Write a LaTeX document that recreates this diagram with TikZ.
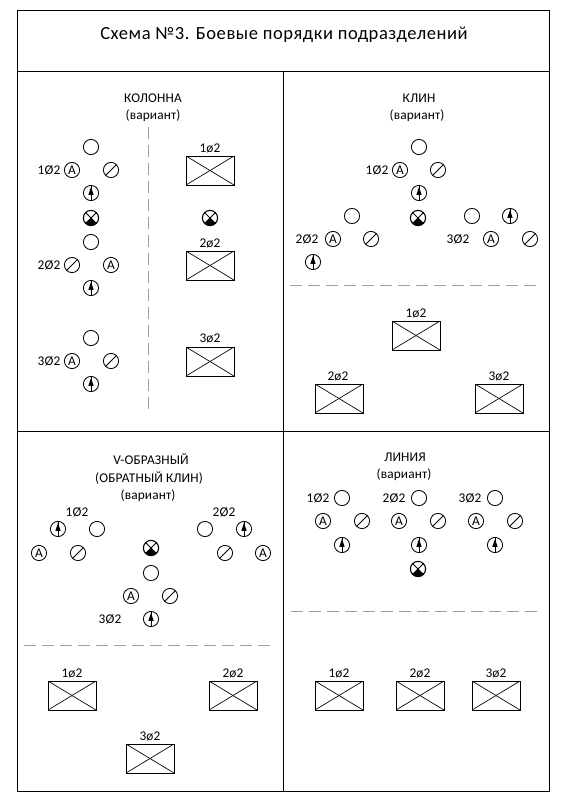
\documentclass[tikz,border=0pt]{standalone}
\usepackage{fontspec}
\setmainfont{Carlito}
\newfontfamily\cadfont[LetterSpace=1]{Carlito}
\newfontfamily\cadwide[LetterSpace=3]{Carlito}
\tikzset{
  x=0.75pt,y=-0.75pt,
  frameline/.style={line width=0.65pt,draw=black},
  dashline/.style={line width=0.7pt,draw=black!38,dash pattern=on 9pt off 4.5pt},
  unitbase/.style={circle,draw=black,line width=0.65pt,minimum size=11.4pt,inner sep=0pt,fill=white},
  plainunit/.style={unitbase},
  autounit/.style={unitbase,font=\cadfont\fontsize{10}{10}\selectfont,text=black},
  slashunit/.style={unitbase,path picture={
    \draw[black,line width=0.65pt] (path picture bounding box.south west) -- (path picture bounding box.north east);}},
  arrowunit/.style={unitbase,path picture={
    \coordinate (pc) at (path picture bounding box.center);
    \draw[black,line width=0.65pt] ([yshift=-6pt]pc) -- ([yshift=6pt]pc);
    \fill[black] ([yshift=4.6pt]pc) -- ([xshift=-2pt,yshift=-1.4pt]pc) -- ([xshift=2pt,yshift=-1.4pt]pc) -- cycle;}},
  cmdunit/.style={unitbase,line width=0.85pt,path picture={
    \coordinate (pc) at (path picture bounding box.center);
    \fill[black] (pc) -- ++(-7pt,-7pt) -- ++(14pt,0pt) -- cycle;
    \fill[black] ([yshift=-2.8pt]pc) ++(-7pt,0pt) rectangle ++(14pt,-6pt);
    \draw[black,line width=0.65pt] ([shift={(-6pt,-6pt)}]pc) -- ([shift={(6pt,6pt)}]pc);
    \draw[black,line width=0.65pt] ([shift={(-6pt,6pt)}]pc) -- ([shift={(6pt,-6pt)}]pc);}},
  platoon/.style={draw=black,line width=0.65pt,minimum width=36pt,minimum height=21.75pt,inner sep=0pt,
    path picture={
    \draw[black,line width=0.5pt] (path picture bounding box.south west) -- (path picture bounding box.north east);
    \draw[black,line width=0.5pt] (path picture bounding box.north west) -- (path picture bounding box.south east);}},
  cadtext/.style={font=\cadfont\fontsize{10}{12}\selectfont,inner sep=0pt,text=black},
  titletext/.style={font=\cadwide\fontsize{13.9}{16}\selectfont,inner sep=0pt,text=black},
}
\newcommand{\trio}[7]{% name, plain x, plain y, A x, row y, slash x, arrow y
  \node[plainunit] (#1p) at (#2,#3) {};
  \node[autounit] (#1a) at (#4,#5) {A};
  \node[slashunit] (#1s) at (#6,#5) {};
  \node[arrowunit] (#1r) at (#2,#7) {};
}
\begin{document}
\begin{tikzpicture}
\useasboundingbox (0,0) rectangle (566,800);
\fill[white] (0,0) rectangle (566,800);
\draw[frameline] (17,10) rectangle (549,791);
\draw[frameline] (17,71) -- (549,71);
\draw[frameline] (283,71) -- (283,791);
\draw[frameline] (17,431) -- (549,431);
\node[titletext] (title) at (284,35) {Схема №3. Боевые порядки подразделений};

% Колонна
\node[cadtext] (t1a) at (153,98) {КОЛОННА};
\node[cadtext] (t1b) at (153,116) {(вариант)};
\draw[dashline] (148,127) -- (148,415);
\trio{a}{91}{147}{72}{170}{111}{193}
\node[cmdunit] (acmd) at (91,218) {};
\node[plainunit] (bp) at (91,242) {};
\node[slashunit] (bs) at (72,265) {};
\node[autounit] (ba) at (111,265) {A};
\node[arrowunit] (br) at (91,288) {};
\trio{c}{91}{338}{72}{361}{111}{384}
\node[cadtext] (al) at (49,170) {1Ø2};
\node[cadtext] (bl) at (49,265) {2Ø2};
\node[cadtext] (cl) at (49,361) {3Ø2};
\node[platoon] (abox) at (210,170.5) {};
\node[platoon] (bbox) at (210,265.5) {};
\node[platoon] (cbox) at (210,361.5) {};
\node[cadtext] (abl) at (210,148) {1ø2};
\node[cadtext] (bbl) at (210,243) {2ø2};
\node[cadtext] (cbl) at (210,338) {3ø2};
\node[cmdunit] (acmd2) at (210,218) {};

% Клин
\node[cadtext] (t2a) at (419,98) {КЛИН};
\node[cadtext] (t2b) at (417,116) {(вариант)};
\trio{d}{419}{147}{400}{170}{438}{193}
\node[cmdunit] (dcmd) at (418,218) {};
\node[plainunit] (ep) at (352,216) {};
\node[autounit] (ea) at (333,239) {A};
\node[slashunit] (es) at (371,239) {};
\node[arrowunit] (er) at (313,262) {};
\node[plainunit] (fp) at (472,216) {};
\node[arrowunit] (fr) at (510,216) {};
\node[autounit] (fa) at (491,239) {A};
\node[slashunit] (fs) at (530,239) {};
\node[cadtext] (dl) at (377,170) {1Ø2};
\node[cadtext] (el) at (307,239) {2Ø2};
\node[cadtext] (fl) at (458,239) {3Ø2};
\draw[dashline] (290,285) -- (540,285);
\node[platoon] (dbox) at (416,335.5) {};
\node[platoon] (ebox) at (339,398.5) {};
\node[platoon] (fbox) at (499,398.5) {};
\node[cadtext] (dbl) at (416,313) {1ø2};
\node[cadtext] (ebl) at (338,376) {2ø2};
\node[cadtext] (fbl) at (499,376) {3ø2};

% V-образный
\node[cadtext] (t3a) at (151,459) {V-ОБРАЗНЫЙ};
\node[cadtext] (t3b) at (149,478) {(ОБРАТНЫЙ КЛИН)};
\node[cadtext] (t3c) at (148,496) {(вариант)};
\node[cadtext] (gl) at (77,512) {1Ø2};
\node[cadtext] (hl) at (224,512) {2Ø2};
\node[cadtext] (il) at (110,619) {3Ø2};
\node[arrowunit] (gr) at (58,529) {};
\node[plainunit] (gp) at (97,529) {};
\node[autounit] (ga) at (39,553) {A};
\node[slashunit] (gs) at (78,553) {};
\node[plainunit] (hp) at (205,529) {};
\node[arrowunit] (hr) at (244,529) {};
\node[slashunit] (hs) at (225,553) {};
\node[autounit] (ha) at (263,553) {A};
\node[cmdunit] (icmd) at (151,548) {};
\trio{i}{151}{573}{131}{596}{170}{619}
\draw[dashline] (24,645) -- (273,645);
\node[platoon] (gbox) at (72,695.5) {};
\node[platoon] (hbox) at (233,695.5) {};
\node[platoon] (ibox) at (150,758.5) {};
\node[cadtext] (gbl) at (72,673) {1ø2};
\node[cadtext] (hbl) at (233,673) {2ø2};
\node[cadtext] (ibl) at (150,736) {3ø2};

% Линия
\node[cadtext] (t4a) at (405,457) {ЛИНИЯ};
\node[cadtext] (t4b) at (404,475) {(вариант)};
\node[cadtext] (jl) at (318,498) {1Ø2};
\node[cadtext] (kl) at (394,498) {2Ø2};
\node[cadtext] (ll) at (470,498) {3Ø2};
\trio{j}{342}{498}{323}{521}{362}{545}
\trio{k}{419}{498}{399}{521}{438}{545}
\trio{l}{495}{498}{476}{521}{515}{545}
\node[cmdunit] (kcmd) at (418,569) {};
\draw[dashline] (291,611) -- (540,611);
\node[platoon] (jbox) at (339,695.5) {};
\node[platoon] (kbox) at (420,695.5) {};
\node[platoon] (lbox) at (496,695.5) {};
\node[cadtext] (jbl) at (339,673) {1ø2};
\node[cadtext] (kbl) at (420,673) {2ø2};
\node[cadtext] (lbl) at (496,673) {3ø2};
\end{tikzpicture}
\end{document}
